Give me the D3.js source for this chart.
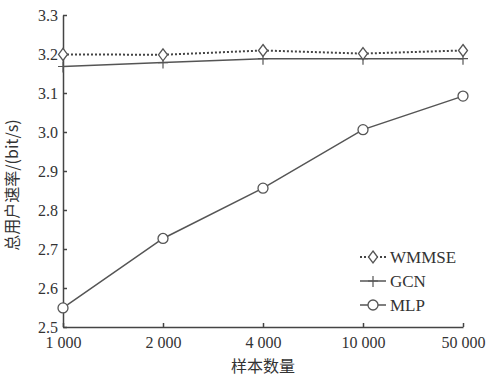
<!DOCTYPE html>
<meta charset="utf-8">
<body style="margin:0;background:#fff">
<script src="https://d3js.org/d3.v7.min.js"></script>
<style>
  .axis path, .axis line { stroke: #444; stroke-width: 1.5; }
  svg text.serif { font-family: "Liberation Serif", "DejaVu Serif", serif; }
  svg text.cjk { font-family: "Noto Sans CJK SC", sans-serif; }
</style>
<script>
var width = 492, height = 378;
var margin = {top: 15, right: 29, bottom: 51, left: 63};

var samples = ["1 000", "2 000", "4 000", "10 000", "50 000"];
var wmmse = [3.199, 3.198, 3.209, 3.201, 3.209];
var gcn   = [3.168, 3.178, 3.188, 3.188, 3.188];
var mlp   = [2.549, 2.727, 2.856, 3.006, 3.092];
var yTicks = [2.5, 2.6, 2.7, 2.8, 2.9, 3.0, 3.1, 3.2, 3.3];

var series = [
  {name: "WMMSE", values: wmmse, marker: "diamond", dash: "2,2"},
  {name: "GCN", values: gcn, marker: "plus", dash: null},
  {name: "MLP", values: mlp, marker: "circle", dash: null}
];

var svg = d3.select("body").append("svg")
  .attr("width", width).attr("height", height);

var x = d3.scalePoint().domain(samples).range([margin.left, width - margin.right]);
var y = d3.scaleLinear().domain([2.5, 3.3]).range([height - margin.bottom, margin.top]);

svg.append("g").attr("class", "axis")
  .attr("transform", "translate(0," + (height - margin.bottom) + ")")
  .call(d3.axisBottom(x).tickSizeInner(-4).tickSizeOuter(0).tickPadding(10));

svg.append("g").attr("class", "axis")
  .attr("transform", "translate(" + margin.left + ",0)")
  .call(d3.axisLeft(y).tickValues(yTicks).tickFormat(d3.format(".1f"))
    .tickSizeInner(-4).tickSizeOuter(0).tickPadding(5));

svg.selectAll(".axis").attr("font-family", null).attr("font-size", null);
svg.selectAll(".axis text").attr("class", "serif")
  .style("font-size", "16px").attr("fill", "#333");

var color = "#555";
var line = d3.line().x(function(d, i) { return x(samples[i]); }).y(function(d) { return y(d); });

function drawMarker(g, type, cx, cy) {
  if (type == "diamond") {
    g.append("path")
      .attr("d", "M" + cx + "," + (cy - 6) + "L" + (cx + 4.5) + "," + cy + "L" + cx + "," + (cy + 6) + "L" + (cx - 4.5) + "," + cy + "Z")
      .attr("fill", "#fff").attr("stroke", color).attr("stroke-width", 1.3);
  } else if (type == "plus") {
    g.append("path")
      .attr("d", "M" + cx + "," + (cy - 5) + "V" + (cy + 6) + "M" + (cx - 5) + "," + cy + "H" + (cx + 5))
      .attr("stroke", color).attr("stroke-width", 1.2);
  } else {
    g.append("circle").attr("cx", cx).attr("cy", cy).attr("r", 5)
      .attr("fill", "#fff").attr("stroke", color).attr("stroke-width", 1.3);
  }
}

// MLP first, WMMSE on top
series.slice().reverse().forEach(function(s) {
  var g = svg.append("g");
  g.append("path").datum(s.values)
    .attr("d", line).attr("fill", "none")
    .attr("stroke", s.name == "WMMSE" ? "#444" : color)
    .attr("stroke-width", s.name == "WMMSE" ? 2 : 1.5)
    .attr("stroke-dasharray", s.dash);
  s.values.forEach(function(v, i) { drawMarker(g, s.marker, x(samples[i]), y(v)); });
});

// legend
var legend = svg.append("g");
series.forEach(function(s, i) {
  var ly = 257 + i * 24;
  var lg = legend.append("g");
  lg.append("line").attr("x1", 360).attr("x2", 386).attr("y1", ly).attr("y2", ly)
    .attr("stroke", s.name == "WMMSE" ? "#444" : color)
    .attr("stroke-width", s.name == "WMMSE" ? 2 : 1.5)
    .attr("stroke-dasharray", s.dash);
  drawMarker(lg, s.marker, 373, ly);
  lg.append("text").attr("class", "serif").attr("x", 390).attr("y", ly).attr("dy", "0.35em")
    .style("font-size", "17px").attr("fill", "#333")
    .text(s.name);
});

svg.append("text").attr("class", "cjk")
  .attr("transform", "translate(18,185) rotate(-90)")
  .style("font-size", "16px").attr("fill", "#333")
  .attr("text-anchor", "middle").text("总用户速率/(bit/s)");

svg.append("text").attr("class", "cjk")
  .attr("x", 263).attr("y", 372)
  .style("font-size", "16px").attr("fill", "#333")
  .attr("text-anchor", "middle").text("样本数量");
</script>
</body>
